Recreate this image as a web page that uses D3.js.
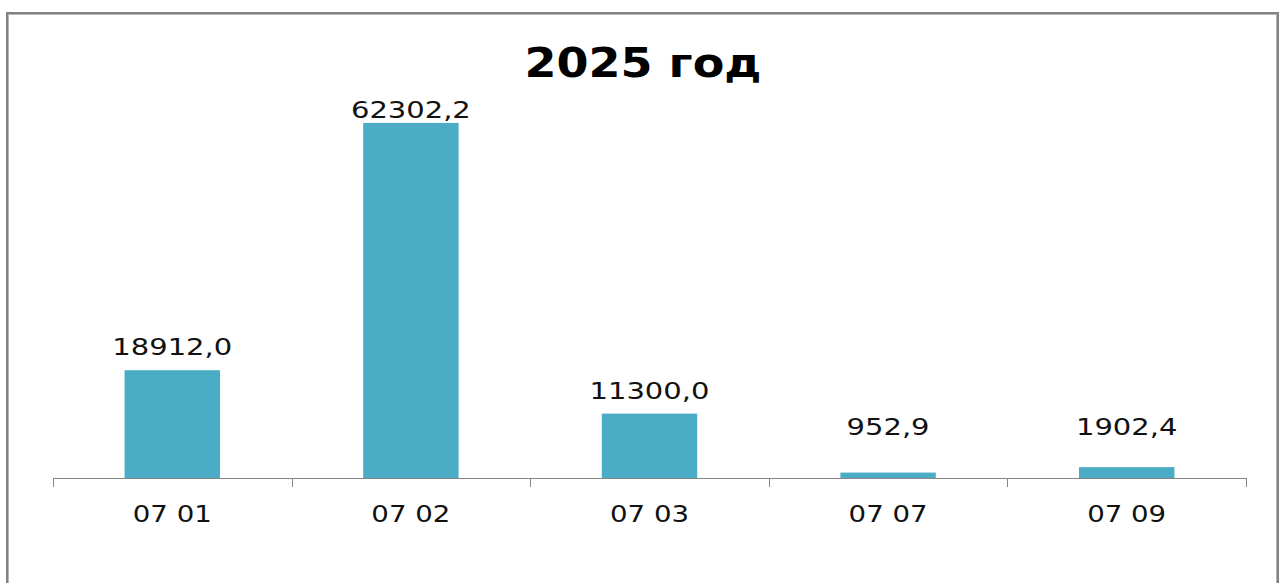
<!DOCTYPE html>
<html>
<head>
<meta charset="utf-8">
<script src="https://cdn.jsdelivr.net/npm/d3@7"></script>
<style>
  html, body { margin: 0; padding: 0; background: #fff; }
  svg { display: block; }
</style>
</head>
<body>
<svg id="chart" width="1286" height="583"></svg>
<script>
// Budget section codes and their 2025 amounts
const categories = ["07 01", "07 02", "07 03", "07 07", "07 09"];
const values = [18912.0, 62302.2, 11300.0, 952.9, 1902.4];
const valueLabels = ["18912,0", "62302,2", "11300,0", "952,9", "1902,4"];
const title = "2025 год";

const svg = d3.select("#chart");

// Frame around the chart area
svg.append("rect")
  .attr("x", 7).attr("y", 13).attr("width", 1271).attr("height", 640)
  .attr("fill", "#fff").attr("stroke", "#828282").attr("stroke-width", 2);
svg.append("rect")
  .attr("x", 8.5).attr("y", 14.5).attr("width", 1268).attr("height", 640)
  .attr("fill", "none").attr("stroke", "#b5b5b5").attr("stroke-width", 1);

const plot = { left: 53, right: 1246, top: 79, bottom: 478 };

const x = d3.scaleBand().domain(categories).range([plot.left, plot.right]).padding(0);
const y = d3.scaleLinear().domain([0, 70000]).range([plot.bottom, plot.top]);

// Horizontal stretch applied to text glyphs
function widen(stretch) {
  return sel => sel.each(function () {
    const len = this.getComputedTextLength();
    d3.select(this).attr("textLength", len * stretch).attr("lengthAdjust", "spacingAndGlyphs");
  });
}

// Title
svg.append("text")
  .attr("x", 643).attr("y", 77)
  .attr("text-anchor", "middle")
  .attr("font-family", "DejaVu Sans, Verdana, sans-serif")
  .attr("font-weight", "bold")
  .attr("font-size", 40)
  .attr("fill", "#000")
  .text(title)
  .call(widen(1.15));

// Bars: width is 40% of the category slot (150% gap)
const barW = x.bandwidth() * 0.4;
svg.append("g").selectAll("rect")
  .data(values)
  .join("rect")
  .attr("x", (d, i) => x(categories[i]) + (x.bandwidth() - barW) / 2)
  .attr("y", d => y(d))
  .attr("width", barW)
  .attr("height", d => y(0) - y(d))
  .attr("fill", "#4bacc6");

// Category axis line
const gx = svg.append("g").attr("transform", `translate(0,${plot.bottom})`)
  .call(d3.axisBottom(x).tickSize(0).tickFormat(""));
gx.select(".domain").attr("stroke", "#868686").attr("stroke-width", 1);
gx.selectAll(".tick").remove();

// Tick marks between categories
const boundaries = categories.map(c => x(c)).concat([x(categories[categories.length - 1]) + x.bandwidth()]);
svg.append("g").selectAll("line")
  .data(boundaries)
  .join("line")
  .attr("x1", d => Math.round(d) + 0.5).attr("x2", d => Math.round(d) + 0.5)
  .attr("y1", plot.bottom).attr("y2", plot.bottom + 9)
  .attr("stroke", "#868686").attr("stroke-width", 1);

// Category labels
svg.append("g").selectAll("text")
  .data(categories)
  .join("text")
  .attr("x", d => x(d) + x.bandwidth() / 2)
  .attr("y", 522)
  .attr("text-anchor", "middle")
  .attr("font-family", "DejaVu Sans, sans-serif")
  .attr("font-size", 23)
  .attr("fill", "#111")
  .text(d => d)
  .call(widen(1.2));

// Value labels above bars
svg.append("g").selectAll("text")
  .data(values)
  .join("text")
  .attr("x", (d, i) => x(categories[i]) + x.bandwidth() / 2)
  .attr("y", d => Math.max(118, Math.min(y(d) - 15, 435)))
  .attr("text-anchor", "middle")
  .attr("font-family", "DejaVu Sans, sans-serif")
  .attr("font-size", 23)
  .attr("fill", "#111")
  .text((d, i) => valueLabels[i])
  .call(widen(1.26));
</script>
</body>
</html>
